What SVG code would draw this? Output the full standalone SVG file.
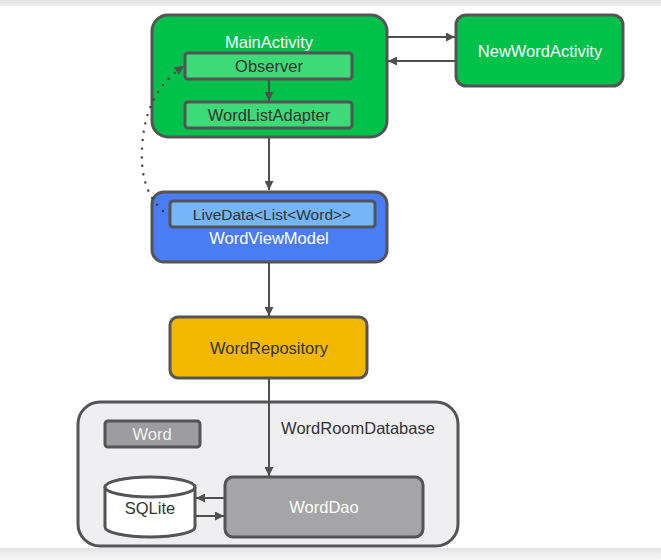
<svg xmlns="http://www.w3.org/2000/svg" width="661" height="560" viewBox="0 0 661 560">
<defs>
<linearGradient id="topband" x1="0" y1="0" x2="0" y2="1"><stop offset="0" stop-color="#e2e1e4"/><stop offset="1" stop-color="#f0eff2"/></linearGradient>
<linearGradient id="botband" x1="0" y1="0" x2="0" y2="1"><stop offset="0" stop-color="#e4e4e6"/><stop offset="1" stop-color="#f6f6f6"/></linearGradient>
<marker id="ah" viewBox="0 0 10 10" refX="10" refY="5" markerWidth="11" markerHeight="9" markerUnits="userSpaceOnUse" orient="auto"><path d="M0,0 L10,5 L0,10 Z" fill="#4f4f4f"/></marker>
</defs>
<style>
.box{stroke:#545454;stroke-width:3}
.t{font-family:"Liberation Sans",Arial,sans-serif;font-size:16.5px;text-anchor:middle;dominant-baseline:central}
.w{fill:#ffffff}
.d{fill:#333333}
.ln{stroke:#4f4f4f;stroke-width:2;fill:none}
</style>
<rect x="0" y="0" width="661" height="560" fill="#ffffff"/>
<rect x="0" y="0" width="661" height="6" fill="url(#topband)"/>
<rect x="0" y="548" width="661" height="12" fill="url(#botband)"/>

<g id="WordRoomDatabase">
<rect class="box" x="78" y="402" width="380" height="144" rx="22" fill="#efeef0"/>
<text class="t d" x="358" y="428">WordRoomDatabase</text>
</g>
<g id="Word">
<rect class="box" x="105" y="421" width="95" height="26" rx="3" fill="#9d9c9e"/>
<text class="t" x="152" y="434" fill="#f2f2f2">Word</text>
</g>
<g id="SQLite">
<path class="box" d="M105,487 L105,527 A45,10 0 0 0 195,527 L195,487" fill="#ffffff"/>
<ellipse class="box" cx="150" cy="487" rx="45" ry="10" fill="#ffffff"/>
<text class="t d" x="150" y="508">SQLite</text>
</g>
<g id="WordDao">
<rect class="box" x="225" y="477" width="198" height="60" rx="8" fill="#a5a4a6"/>
<text class="t w" x="324" y="507">WordDao</text>
</g>

<g id="MainActivity">
<rect class="box" x="152" y="15" width="235" height="122" rx="16" fill="#00c24b"/>
<text class="t w" x="269" y="42">MainActivity</text>
</g>
<g id="Observer">
<rect class="box" x="185" y="53" width="167" height="26" rx="3" fill="#3cdb78"/>
<text class="t d" x="269" y="66">Observer</text>
</g>
<g id="WordListAdapter">
<rect class="box" x="185" y="102" width="167" height="26" rx="3" fill="#3cdb78"/>
<text class="t d" x="269" y="115">WordListAdapter</text>
</g>
<g id="NewWordActivity">
<rect class="box" x="456" y="15" width="167" height="71" rx="10" fill="#00c24b"/>
<text class="t w" x="540" y="51">NewWordActivity</text>
</g>
<g id="WordViewModel">
<rect class="box" x="152" y="192" width="235" height="70" rx="12" fill="#4a7cf5"/>
<text class="t w" x="269" y="238">WordViewModel</text>
</g>
<g id="LiveData">
<rect class="box" x="170" y="201" width="205" height="26" rx="3" fill="#74b6f8"/>
<text class="t d" x="272" y="214" style="font-size:15.5px">LiveData&lt;List&lt;Word&gt;&gt;</text>
</g>
<g id="WordRepository">
<rect class="box" x="170" y="317" width="197" height="61" rx="8" fill="#f2b800"/>
<text class="t d" x="269" y="348">WordRepository</text>
</g>

<g id="connectors">
<line class="ln" x1="388" y1="37" x2="455" y2="37" marker-end="url(#ah)"/>
<line class="ln" x1="455" y1="61" x2="388" y2="61" marker-end="url(#ah)"/>
<line class="ln" x1="269" y1="80" x2="269" y2="101" marker-end="url(#ah)"/>
<line class="ln" x1="269" y1="138" x2="269" y2="190" marker-end="url(#ah)"/>
<line class="ln" x1="269" y1="263" x2="269" y2="316" marker-end="url(#ah)"/>
<line class="ln" x1="269" y1="379" x2="269" y2="476" marker-end="url(#ah)"/>
<line class="ln" x1="224" y1="498" x2="196" y2="498" marker-end="url(#ah)"/>
<line class="ln" x1="196" y1="516" x2="224" y2="516" marker-end="url(#ah)"/>
<path d="M163,211 Q140,190 142,150 Q144,92 184,66" fill="none" stroke="#3d3d3d" stroke-width="2.4" stroke-linecap="round" stroke-dasharray="0 8.5" marker-end="url(#ah)"/>
</g>
</svg>
